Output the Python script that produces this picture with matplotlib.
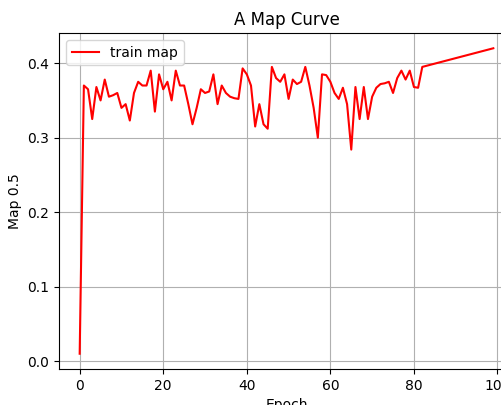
import matplotlib
matplotlib.use('Agg')
import matplotlib.pyplot as plt

# epochs 0..82, then the final epoch
epochs = list(range(83)) + [99]

train_map = [
    0.010, 0.370, 0.365, 0.325, 0.368, 0.350, 0.378, 0.355, 0.357, 0.360,
    0.340, 0.345, 0.323, 0.360, 0.375, 0.370, 0.370, 0.390, 0.335, 0.385,
    0.365, 0.375, 0.350, 0.390, 0.370, 0.370, 0.345, 0.318, 0.340, 0.365,
    0.360, 0.362, 0.385, 0.345, 0.370, 0.360, 0.355, 0.353, 0.352, 0.393,
    0.385, 0.370, 0.315, 0.345, 0.318, 0.312, 0.395, 0.380, 0.375, 0.385,
    0.352, 0.378, 0.372, 0.375, 0.395, 0.370, 0.340, 0.300, 0.385, 0.384,
    0.375, 0.360, 0.352, 0.367, 0.345, 0.284, 0.368, 0.325, 0.368, 0.325,
    0.355, 0.367, 0.372, 0.373, 0.375, 0.360, 0.380, 0.390, 0.378, 0.390,
    0.368, 0.367, 0.395, 0.420,
]

fig = plt.figure(figsize=(5.01, 4.05), dpi=100)
# axes run past the right edge of the canvas
ax = fig.add_axes([59/501, 36/405, 455/501, 336/405])

ax.plot(epochs, train_map, color='red', linewidth=1.5, label='train map')
ax.set_title('A Map Curve')
ax.set_xlabel('Epoch')
ax.set_ylabel('Map 0.5')
ax.set_xticks([0, 20, 40, 60, 80, 100])
ax.set_yticks([0.0, 0.1, 0.2, 0.3, 0.4])
ax.grid(True)
ax.legend(loc='upper left')

fig.savefig('out.png', dpi=100)
